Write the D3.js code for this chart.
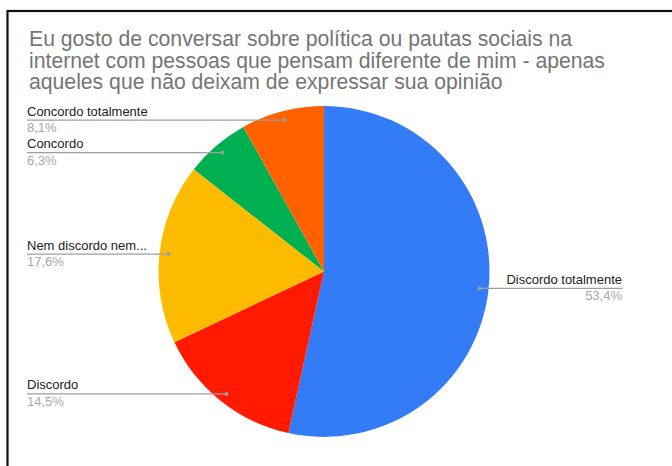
<!DOCTYPE html>
<html>
<head>
<meta charset="utf-8">
<script src="https://cdn.jsdelivr.net/npm/d3@7"></script>
<style>
  html, body { margin: 0; padding: 0; background: #fff; }
  svg { display: block; }
</style>
</head>
<body>
<svg id="chart" width="672" height="466"></svg>
<script>
const titleLines = [
  "Eu gosto de conversar sobre política ou pautas sociais na",
  "internet com pessoas que pensam diferente de mim - apenas",
  "aqueles que não deixam de expressar sua opinião"
];
const categories = ["Discordo totalmente", "Discordo", "Nem discordo nem...", "Concordo", "Concordo totalmente"];
const values = [53.4, 14.5, 17.6, 6.3, 8.1];
const pctLabels = ["53,4%", "14,5%", "17,6%", "6,3%", "8,1%"];
const colors = ["#347cf6", "#ff1a00", "#fdbb00", "#00af4f", "#ff6000"];

const svg = d3.select("#chart");
const W = 672, H = 466;

// frame (cropped screenshot: only left and top edges visible)
svg.append("rect").attr("x", 7.5).attr("y", 11).attr("width", W + 20).attr("height", H + 20)
  .attr("fill", "#fff").attr("stroke", "#111").attr("stroke-width", 2.2);

// title
const title = svg.append("text")
  .attr("font-family", "Liberation Sans, Arial, sans-serif")
  .attr("font-size", 21.2).attr("fill", "#757575");
titleLines.forEach((t, i) => {
  title.append("tspan").attr("x", 29).attr("y", 46 + i * 21.5).text(t);
});

const cx = 324, cy = 271.5, r = 165.5, rDot = 156.5;
const data = categories.map((c, i) => ({ cat: c, value: values[i], pct: pctLabels[i], color: colors[i] }));

const pie = d3.pie().value(d => d.value).sort(null);
const arc = d3.arc().innerRadius(0).outerRadius(r);
const arcs = pie(data);

const g = svg.append("g").attr("transform", `translate(${cx},${cy})`);
g.selectAll("path").data(arcs).join("path")
  .attr("d", arc).attr("fill", d => d.data.color)
  .attr("stroke", "none");

const labelG = svg.append("g").attr("font-family", "Liberation Sans, Arial, sans-serif").attr("font-size", 13);
arcs.forEach(a => {
  const mid = (a.startAngle + a.endAngle) / 2;
  const px = cx + rDot * Math.sin(mid);
  const py = cy - rDot * Math.cos(mid);
  const right = Math.sin(mid) > 0;
  const tx = right ? 622 : 27;
  labelG.append("line").attr("x1", px).attr("y1", py).attr("x2", tx).attr("y2", py)
    .attr("stroke", "#9e9e9e").attr("stroke-width", 1.3);
  labelG.append("circle").attr("cx", px).attr("cy", py).attr("r", 2).attr("fill", "#9e9e9e");
  labelG.append("text").attr("x", tx).attr("y", py - 4.5)
    .attr("text-anchor", right ? "end" : "start").attr("fill", "#222").text(a.data.cat);
  labelG.append("text").attr("x", tx).attr("y", py + 12)
    .attr("text-anchor", right ? "end" : "start").attr("fill", "#a8a8a8").text(a.data.pct);
});
</script>
</body>
</html>
